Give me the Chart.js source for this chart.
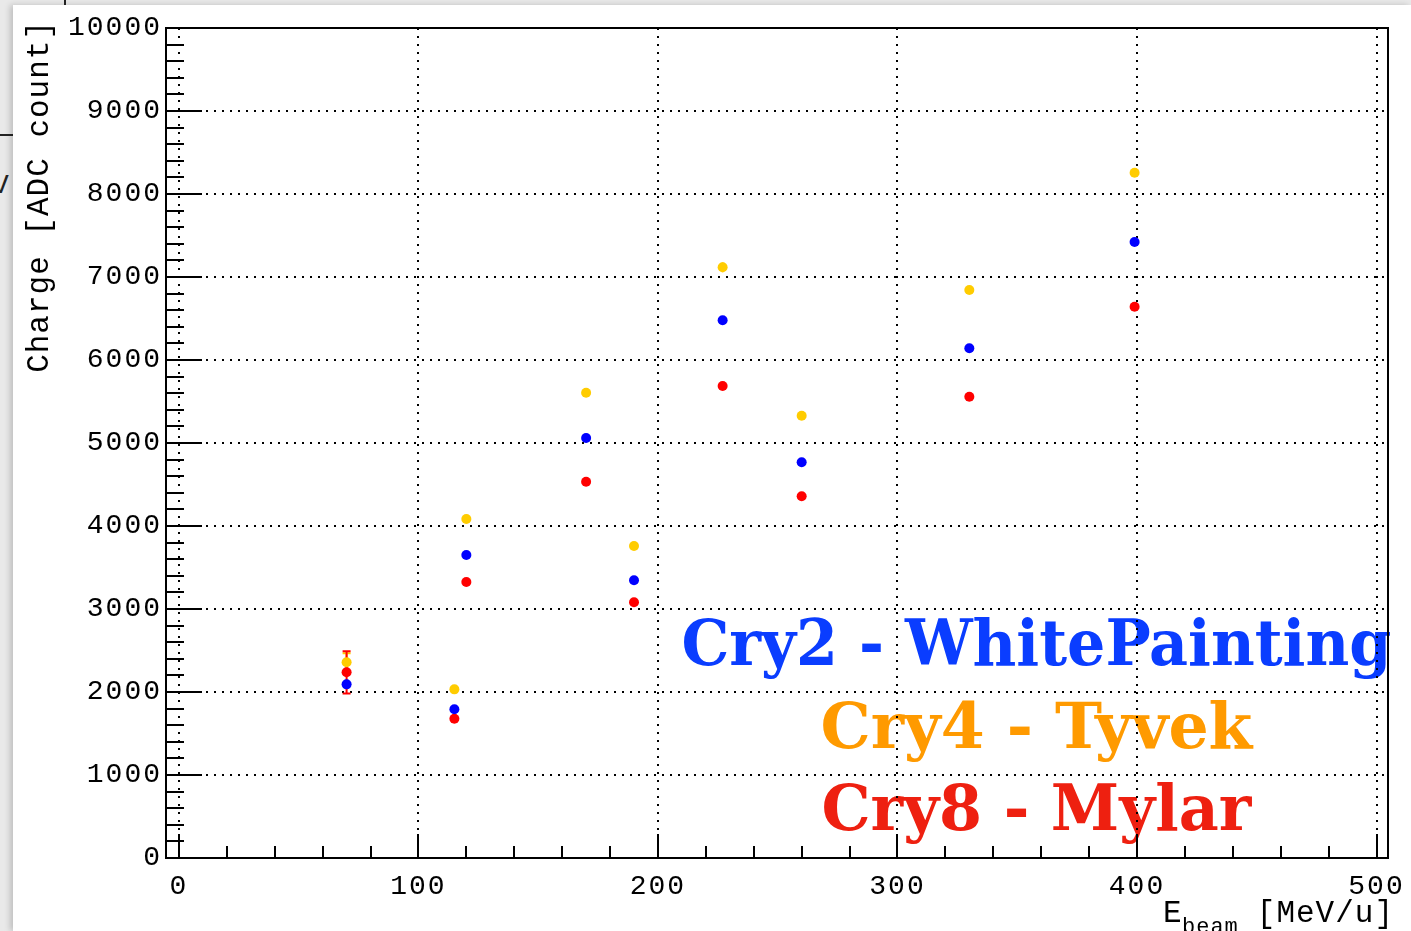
<!DOCTYPE html>
<html>
<head>
<meta charset="utf-8">
<script src="https://cdn.jsdelivr.net/npm/chart.js@4"></script>
<style>
  html, body { margin: 0; padding: 0; background: #e9e9e9; overflow: hidden; }
  #panel { position: absolute; left: 13px; top: 5px; width: 1398px; height: 926px; background: #fff;
           box-shadow: -3px 0 6px rgba(0,0,0,0.18); }
  #hline { position: absolute; left: 0; top: 134px; width: 13px; height: 2px; background: #222; }
  #vline { position: absolute; left: 64px; top: 0; width: 2px; height: 5px; background: #222; }
  #scrap { position: absolute; left: -8px; top: 170px; font: 28px 'Liberation Mono', monospace; color: #222; }
  #wrap { position: absolute; left: 0; top: 0; }
</style>
</head>
<body>
<div id="panel"></div>
<div id="hline"></div>
<div id="vline"></div>
<div id="scrap">V</div>
<div id="wrap"><canvas id="c" width="1411" height="931"></canvas></div>
<script>
// energie del fascio [MeV/u]
const energies = [70, 115, 120, 170, 190, 227, 260, 330, 399];

// carica media [ADC count] per cristallo
const cry2 = [2092, 1792, 3651, 5060, 3346, 6478, 4767, 6141, 7422]; // WhitePainting
const cry4 = [2358, 2032, 4084, 5606, 3759, 7117, 5329, 6843, 8257]; // Tyvek
const cry8 = [2237, 1678, 3325, 4534, 3081, 5687, 4358, 5558, 6642]; // Mylar

// errori
const cry2Err = [60, 30, 40, 50, 30, 50, 30, 30, 30];
const cry4Err = [110, 30, 50, 50, 30, 60, 30, 30, 30];
const cry8Err = [255, 30, 40, 50, 30, 50, 30, 30, 30];

// assi
const xTicks = [0, 100, 200, 300, 400, 500];
const yTicks = [0, 1000, 2000, 3000, 4000, 5000, 6000, 7000, 8000, 9000, 10000];

const labels = ['Cry2 - WhitePainting', 'Cry4 - Tyvek', 'Cry8 - Mylar'];
const labelColors = ['#0a3dff', '#ff9a00', '#ee2010'];

const toPts = (vals) => energies.map((e, i) => ({ x: e, y: vals[i] }));

const rootStyle = {
  id: 'rootStyle',
  beforeDraw(chart) {
    chart.ctx.letterSpacing = '2px';
  },
  beforeDatasetsDraw(chart) {
    const { ctx, chartArea: a, scales: { x, y } } = chart;
    ctx.save();

    // testi colorati (sotto la griglia, come in ROOT)
    ctx.letterSpacing = '0px';
    ctx.textAlign = 'center';
    ctx.textBaseline = 'alphabetic';
    ctx.font = "bold 64px 'DejaVu Serif'";
    const cx = x.getPixelForValue(358);
    const rows = [2325, 1325, 337];
    const widths = [710, 432, 430];
    labels.forEach((t, i) => {
      ctx.fillStyle = labelColors[i];
      ctx.fillText(t, cx, y.getPixelForValue(rows[i]), widths[i]);
    });

    // griglia a puntini
    ctx.strokeStyle = '#000';
    ctx.lineWidth = 2;
    ctx.setLineDash([2, 6]);
    xTicks.forEach(v => {
      const px = Math.round(x.getPixelForValue(v));
      ctx.beginPath(); ctx.moveTo(px, a.top); ctx.lineTo(px, a.bottom); ctx.stroke();
    });
    yTicks.forEach(v => {
      const py = Math.round(y.getPixelForValue(v));
      ctx.beginPath(); ctx.moveTo(a.left, py); ctx.lineTo(a.right, py); ctx.stroke();
    });
    ctx.setLineDash([]);

    // barre d'errore
    const sets = [[cry4, cry4Err, '#ffcc00'], [cry2, cry2Err, '#0000ff'], [cry8, cry8Err, '#ff0000']];
    sets.forEach(([vals, errs, col]) => {
      ctx.strokeStyle = col;
      ctx.lineWidth = 2;
      energies.forEach((e, i) => {
        const px = x.getPixelForValue(e);
        const top = y.getPixelForValue(vals[i] + errs[i]);
        const bot = y.getPixelForValue(vals[i] - errs[i]);
        ctx.beginPath(); ctx.moveTo(px, top); ctx.lineTo(px, bot); ctx.stroke();
        if (bot - top > 16) {
          ctx.beginPath();
          ctx.moveTo(px - 4, top); ctx.lineTo(px + 4, top);
          ctx.moveTo(px - 4, bot); ctx.lineTo(px + 4, bot);
          ctx.stroke();
        }
      });
    });
    ctx.restore();
  },
  afterDraw(chart) {
    const { ctx, chartArea: a, scales: { x, y } } = chart;
    ctx.save();
    ctx.strokeStyle = '#000';
    ctx.lineWidth = 2;
    ctx.strokeRect(a.left, a.top, a.right - a.left, a.bottom - a.top);

    // tacche interne asse x
    for (let v = 0; v <= 500; v += 20) {
      const px = Math.round(x.getPixelForValue(v));
      const len = v % 100 === 0 ? 24 : 12;
      ctx.beginPath(); ctx.moveTo(px, a.bottom); ctx.lineTo(px, a.bottom - len); ctx.stroke();
    }
    // tacche interne asse y
    for (let v = 0; v <= 10000; v += 200) {
      const py = Math.round(y.getPixelForValue(v));
      const len = v % 1000 === 0 ? 36 : 18;
      ctx.beginPath(); ctx.moveTo(a.left, py); ctx.lineTo(a.left + len, py); ctx.stroke();
    }

    // titoli assi
    ctx.fillStyle = '#000';
    ctx.letterSpacing = '1px';
    ctx.font = "31px 'Liberation Mono'";
    ctx.textBaseline = 'alphabetic';
    ctx.textAlign = 'right';
    ctx.fillText('[MeV/u]', a.right + 6, a.bottom + 64);
    ctx.textAlign = 'left';
    ctx.fillText('E', 1163, a.bottom + 64);
    ctx.font = "22px 'Liberation Mono'";
    ctx.fillText('beam', 1182, a.bottom + 75);

    ctx.font = "31px 'Liberation Mono'";
    ctx.translate(48, a.top - 8);
    ctx.rotate(-Math.PI / 2);
    ctx.textAlign = 'right';
    ctx.fillText('Charge [ADC count]', 0, 0);
    ctx.restore();
  }
};

new Chart(document.getElementById('c'), {
  type: 'scatter',
  data: {
    datasets: [
      { label: 'Cry4', data: toPts(cry4), backgroundColor: '#ffcc00', borderWidth: 0, pointRadius: 5 },
      { label: 'Cry2', data: toPts(cry2), backgroundColor: '#0000ff', borderWidth: 0, pointRadius: 5 },
      { label: 'Cry8', data: toPts(cry8), backgroundColor: '#ff0000', borderWidth: 0, pointRadius: 5 }
    ]
  },
  options: {
    responsive: false,
    animation: false,
    events: [],
    layout: { padding: { left: 0, top: 28, right: 23, bottom: 0 } },
    plugins: { legend: { display: false }, tooltip: { enabled: false } },
    scales: {
      x: {
        type: 'linear', min: -5.4, max: 504.8,
        grid: { display: false, drawTicks: false }, border: { display: false },
        afterBuildTicks: s => { s.ticks = xTicks.map(v => ({ value: v })); },
        afterFit: s => { s.height = 73; s.paddingLeft = 0; s.paddingRight = 0; },
        ticks: { color: '#000', padding: 12, maxRotation: 0, autoSkip: false,
                 callback: v => String(v),
                 font: { family: 'Liberation Mono', size: 28 } }
      },
      y: {
        type: 'linear', min: 0, max: 10000,
        grid: { display: false, drawTicks: false }, border: { display: false },
        afterBuildTicks: s => { s.ticks = yTicks.map(v => ({ value: v })); },
        afterFit: s => { s.width = 166; s.paddingTop = 0; s.paddingBottom = 0; },
        ticks: { color: '#000', padding: 4, autoSkip: false,
                 callback: v => String(v),
                 font: { family: 'Liberation Mono', size: 28 } }
      }
    }
  },
  plugins: [rootStyle]
});
</script>
</body>
</html>
